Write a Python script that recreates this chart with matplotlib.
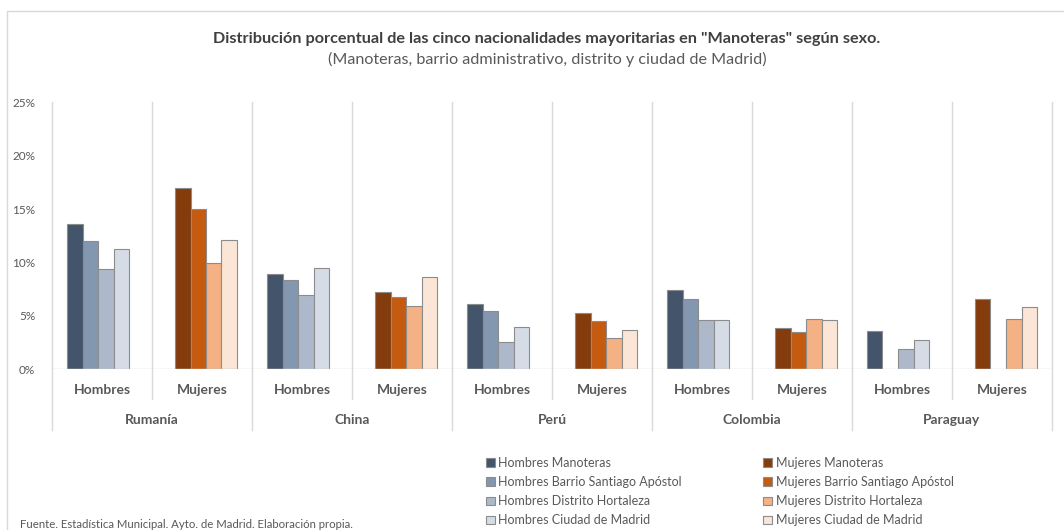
import numpy as np
import matplotlib.pyplot as plt
import matplotlib.transforms as mtransforms
from matplotlib.patches import Rectangle

plt.rcParams['font.family'] = ['Lato', 'DejaVu Sans']

# Datos (% sobre el total de extranjeros)
paises = ["Rumanía", "China", "Perú", "Colombia", "Paraguay"]
sexos = ["Hombres", "Mujeres"]
ambitos = ["Manoteras", "Barrio Santiago Apóstol", "Distrito Hortaleza", "Ciudad de Madrid"]

hombres_manoteras = [13.6, 8.9, 6.1, 7.4, 3.6]
hombres_barrio = [12.0, 8.4, 5.5, 6.6, np.nan]
hombres_distrito = [9.4, 7.0, 2.6, 4.6, 1.9]
hombres_ciudad = [11.3, 9.5, 4.0, 4.6, 2.7]
mujeres_manoteras = [17.0, 7.2, 5.3, 3.9, 6.6]
mujeres_barrio = [15.0, 6.8, 4.5, 3.5, np.nan]
mujeres_distrito = [10.0, 5.9, 2.9, 4.7, 4.7]
mujeres_ciudad = [12.1, 8.6, 3.7, 4.6, 5.8]

hombres = [hombres_manoteras, hombres_barrio, hombres_distrito, hombres_ciudad]
mujeres = [mujeres_manoteras, mujeres_barrio, mujeres_distrito, mujeres_ciudad]

col_h = ["#44546A", "#8497B0", "#ADB9CA", "#D6DCE5"]
col_m = ["#843C0C", "#C55A11", "#F4B183", "#FBE5D6"]
gris = "#595959"
linea = "#D9D9D9"

W, H = 1064, 530
fig = plt.figure(figsize=(W / 100, H / 100), dpi=100)
ax = fig.add_axes([52 / W, (H - 369.3) / H, 1000 / W, 267 / H])

bw = 0.155
x0 = np.arange(len(paises)) * 2
handles = []
for i in range(4):
    b = ax.bar(x0 + 0.15 + i * bw, hombres[i], width=bw, align='edge',
               color=col_h[i], edgecolor="#8C8C8C", linewidth=0.8,
               label="Hombres " + ambitos[i])
    handles.append(b)
for i in range(4):
    b = ax.bar(x0 + 1 + 0.23 + i * bw, mujeres[i], width=bw, align='edge',
               color=col_m[i], edgecolor="#8C8C8C", linewidth=0.8,
               label="Mujeres " + ambitos[i])
    handles.append(b)

ax.set_xlim(0, 10)
ax.set_ylim(0, 25)
for s in ax.spines.values():
    s.set_visible(False)
ax.axhline(0, color=linea, lw=1)
ax.set_xticks([])
ax.set_yticks(range(0, 26, 5))
ax.set_yticklabels([f"{v}%" for v in range(0, 26, 5)])
ax.tick_params(axis='y', length=0, pad=12, labelcolor=gris, labelsize=8.5)

# separadores y etiquetas de categoría
tr = mtransforms.blended_transform_factory(ax.transData, ax.transAxes)
for k in range(11):
    low = -0.227 if k % 2 == 0 else -0.111
    ax.plot([k, k], [1, low], color=linea, lw=1, transform=tr, clip_on=False)
for k in range(10):
    ax.text(k + 0.5, -0.076, sexos[k % 2], transform=tr, ha='center', va='center',
            fontsize=10, fontweight='bold', color=gris)
for j, p in enumerate(paises):
    ax.text(2 * j + 1, -0.19, p, transform=tr, ha='center', va='center',
            fontsize=10, fontweight='bold', color=gris)

fig.text(547 / W, 1 - 39 / H,
         'Distribución porcentual de las cinco nacionalidades mayoritarias en "Manoteras" según sexo.',
         ha='center', va='center', fontsize=11.7, fontweight='bold', color="#404040")
fig.text(547 / W, 1 - 59 / H,
         '(Manoteras, barrio administrativo, distrito y ciudad de Madrid)',
         ha='center', va='center', fontsize=11.6, color=gris)

fig.legend(handles=handles, ncol=2, loc='upper left',
           bbox_to_anchor=(486 / W, 1 - 457 / H), frameon=False,
           fontsize=9, labelcolor=gris, handlelength=0.7, handleheight=0.7,
           handletextpad=0.3, labelspacing=0.57, columnspacing=6.5,
           borderpad=0, borderaxespad=0)

fig.text(20 / W, 1 - 524 / H,
         'Fuente. Estadística Municipal. Ayto. de Madrid. Elaboración propia.',
         ha='left', va='center', fontsize=8.2, color=gris)

fig.patches.append(Rectangle((7 / W, -0.1), 1.2, (H - 11) / H + 0.1,
                             transform=fig.transFigure, fill=False,
                             edgecolor=linea, lw=1))

fig.savefig("out.png", dpi=100)
